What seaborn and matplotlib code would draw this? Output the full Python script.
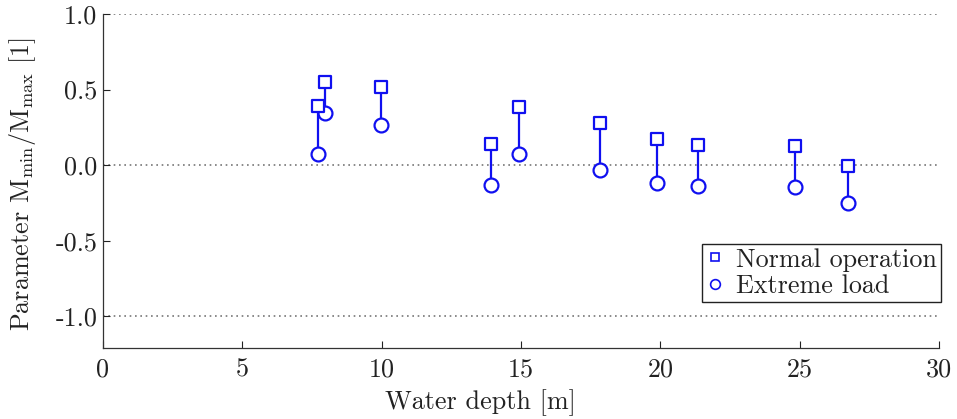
import matplotlib
matplotlib.use("Agg")
import matplotlib.pyplot as plt
from matplotlib.lines import Line2D
import seaborn as sns
import pandas as pd

# Water depth of each site [m]
water_depth = [7.71, 7.98, 9.99, 13.92, 14.92, 17.83, 19.87, 21.37, 24.82, 26.72]
# Ratio M_min / M_max for each load case
normal_operation = [0.389, 0.552, 0.519, 0.141, 0.386, 0.280, 0.172, 0.130, 0.124, -0.005]
extreme_load = [0.075, 0.346, 0.267, -0.130, 0.075, -0.031, -0.117, -0.137, -0.144, -0.252]

x_ticks = [0, 5, 10, 15, 20, 25, 30]
x_tick_labels = ["0", "5", "10", "15", "20", "25", "30"]
y_ticks = [-1.0, -0.5, 0.0, 0.5, 1.0]
y_tick_labels = ["-1.0", "-0.5", "0.0", "0.5", "1.0"]
grid_levels = [-1.0, 0.0, 1.0]

sns.set_style("ticks")
plt.rcParams["font.family"] = ["cmr10", "DejaVu Serif"]
plt.rcParams["mathtext.fontset"] = "cm"
plt.rcParams["axes.unicode_minus"] = False

FS = 18.8
blue = "#1010f0"
ink = "#222222"
df = pd.DataFrame({
    "depth": water_depth * 2,
    "ratio": normal_operation + extreme_load,
    "case": ["Normal operation"] * len(water_depth) + ["Extreme load"] * len(water_depth),
})

fig = plt.figure(figsize=(9.57, 4.19), dpi=100)
ax = fig.add_axes([0.1076, 0.1695, 0.8735, 0.797])

for lvl in grid_levels:
    ax.axhline(lvl, color="#777777", lw=1.2, ls=(0, (1, 2.2)), zorder=0)

# stems joining the two load cases at each depth
ax.vlines(water_depth, extreme_load, normal_operation, color=blue, lw=1.6, zorder=2)

sns.scatterplot(data=df[df.case == "Extreme load"], x="depth", y="ratio", ax=ax,
                marker="o", s=100, facecolor="white", edgecolor=blue,
                linewidth=1.6, zorder=3, legend=False)
sns.scatterplot(data=df[df.case == "Normal operation"], x="depth", y="ratio", ax=ax,
                marker="s", s=78, facecolor="white", edgecolor=blue,
                linewidth=1.6, zorder=4, legend=False)

ax.set_xlim(0, 30)
ax.set_ylim(-1.21, 1.0)
ax.set_xticks(x_ticks, x_tick_labels)
ax.set_yticks(y_ticks, y_tick_labels)
ax.tick_params(direction="in", length=5, width=0.8, labelsize=FS, colors=ink)
ax.tick_params(axis="x", pad=7)
ax.tick_params(axis="y", pad=4)
for side in ("top", "right"):
    ax.spines[side].set_visible(False)
for side in ("left", "bottom"):
    ax.spines[side].set_color("#333333")
    ax.spines[side].set_linewidth(0.9)

ax.set_xlabel("Water depth [m]", fontsize=FS, color=ink)
ax.xaxis.set_label_coords(0.452, -0.125)
ax.set_ylabel(r"Parameter $\mathrm{M}_{\mathrm{min}}/\mathrm{M}_{\mathrm{max}}$ [1]",
              fontsize=FS, color=ink)
ax.yaxis.set_label_coords(-0.078, 0.49)

handles = [
    Line2D([], [], ls="none", marker="s", ms=6, mfc="white", mec=blue, mew=1.2),
    Line2D([], [], ls="none", marker="o", ms=7, mfc="white", mec=blue, mew=1.2),
]
leg = ax.legend(handles, ["Normal operation", "Extreme load"], loc="lower right",
                bbox_to_anchor=(1.002, 0.138), fontsize=FS, frameon=True, fancybox=False,
                framealpha=1, edgecolor=ink, handlelength=0.7, handletextpad=0.45,
                borderpad=0.15, labelspacing=0.1, borderaxespad=0)
leg.get_frame().set_linewidth(1.0)
for t in leg.get_texts():
    t.set_color(ink)

fig.savefig("out.png", dpi=100)
